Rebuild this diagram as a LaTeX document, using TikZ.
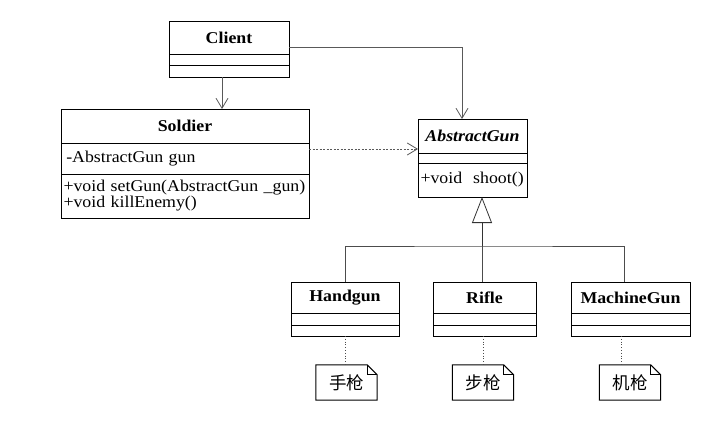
\documentclass[tikz,border=0pt]{standalone}
\usepackage{fontspec}
\setmainfont{Liberation Serif}[FakeStretch=1.08]
\newfontfamily\cjk{Noto Sans CJK SC}
\usetikzlibrary{arrows.meta, positioning, calc}

\begin{document}
\begin{tikzpicture}[
    x=1pt, y=-1pt, font=\fontsize{16.5}{16}\selectfont,
    cls/.style={draw, line width=1pt, outer sep=0pt, inner sep=0pt,
                font=\fontsize{16.5}{16}\selectfont\bfseries},
    comp/.style={draw, line width=1pt, outer sep=0pt, inner xsep=2.5pt, inner ysep=0pt,
                 align=left, anchor=north},
    note/.style={minimum width=61, minimum height=35, inner sep=0pt,
                 font=\cjk\fontsize{17.5}{17.5}\selectfont},
    assoc/.style={-{Straight Barb[length=10pt, width=12pt]}, line width=0.8pt, black!65},
    dep/.style={assoc, dash pattern=on 2pt off 1.5pt},
    gen/.style={-{Triangle[open, length=26pt, width=20pt]}, line width=0.8pt, black!80},
    link/.style={line width=0.8pt, black!70},
    notelink/.style={dotted, line width=0.8pt, black!70},
  ]
    \useasboundingbox (0,0) rectangle (724,447);

    % ---------- Client ----------
    \node[cls, minimum width=120, minimum height=33] (cn) at (229,37.5) {Client};
    \node[comp, minimum width=120, minimum height=11, below=0pt of cn] (cf) {};
    \node[comp, minimum width=120, minimum height=12, below=0pt of cf] (co) {};

    % ---------- Soldier ----------
    \node[cls, minimum width=248, minimum height=34] (sd) at (185,126) {Soldier};
    \node[comp, text width=243, minimum height=31, below=0pt of sd] (sf) {\,-AbstractGun gun};
    \node[comp, text width=243, minimum height=44, below=0pt of sf] (so)
      {+void setGun(AbstractGun \_gun)\\+void killEnemy()};

    % ---------- AbstractGun ----------
    \node[cls, minimum width=109, minimum height=34,
          font=\fontsize{16.5}{16}\selectfont\bfseries\itshape] (ag) at (472.5,136) {AbstractGun};
    \node[comp, minimum width=109, minimum height=10, below=0pt of ag] (af) {};
    \node[comp, text width=104, minimum height=34, below=0pt of af] (ao) {+void~~shoot()};

    % ---------- subclasses ----------
    \node[cls, minimum width=108, minimum height=31] (hg) at (345,297.5) {Handgun};
    \node[comp, minimum width=108, minimum height=12, below=0pt of hg] (hf) {};
    \node[comp, minimum width=108, minimum height=11, below=0pt of hf] (ho) {};

    \node[cls, minimum width=103, minimum height=31] (rf) at (484.5,297.5) {Rifle};
    \node[comp, minimum width=103, minimum height=12, below=0pt of rf] (rff) {};
    \node[comp, minimum width=103, minimum height=11, below=0pt of rff] (rfo) {};

    \node[cls, minimum width=119, minimum height=31] (mg) at (630.5,297.5) {MachineGun};
    \node[comp, minimum width=119, minimum height=12, below=0pt of mg] (mf) {};
    \node[comp, minimum width=119, minimum height=11, below=0pt of mf] (mo) {};

    % ---------- notes ----------
    \node[note] (hn) at (346.5,382.5) {手枪};
    \node[note] (rn) at (483,382.5) {步枪};
    \node[note] (mn) at (630,382.5) {机枪};
    \foreach \n in {hn,rn,mn}{
      \draw[line width=1pt] (\n.north west) -- ([xshift=-10]\n.north east)
        -- ([yshift=-10]\n.north east) -- (\n.south east) -- (\n.south west) -- cycle;
      \draw[line width=0.8pt] ([xshift=-10]\n.north east) |- ([yshift=-10]\n.north east);
    }

    % ---------- connectors ----------
    \draw[assoc] ([xshift=-7]co.south) -- ([xshift=-7]co.south |- sd.north);
    \draw[assoc] ([yshift=-9.5]cn.east) -| ([xshift=-10.5]ag.north);
    \draw[dep] ([yshift=-6]sf.north east) -- ([yshift=-6]sf.north east -| ag.west);

    \coordinate (jn) at (482,246);
    \draw[gen] (jn) -- (jn |- ao.south);
    \draw[link] (hg.north) |- (jn) -| ([xshift=-6.5]mg.north);
    \draw[link] (jn) -- (jn |- rf.north);

    \draw[notelink] (ho.south) -- (ho.south |- hn.north);
    \draw[notelink] (rn.north |- rfo.south) -- (rn.north);
    \draw[notelink] ([xshift=-9]mn.north |- mo.south) -- ([xshift=-9]mn.north);
\end{tikzpicture}
\end{document}
